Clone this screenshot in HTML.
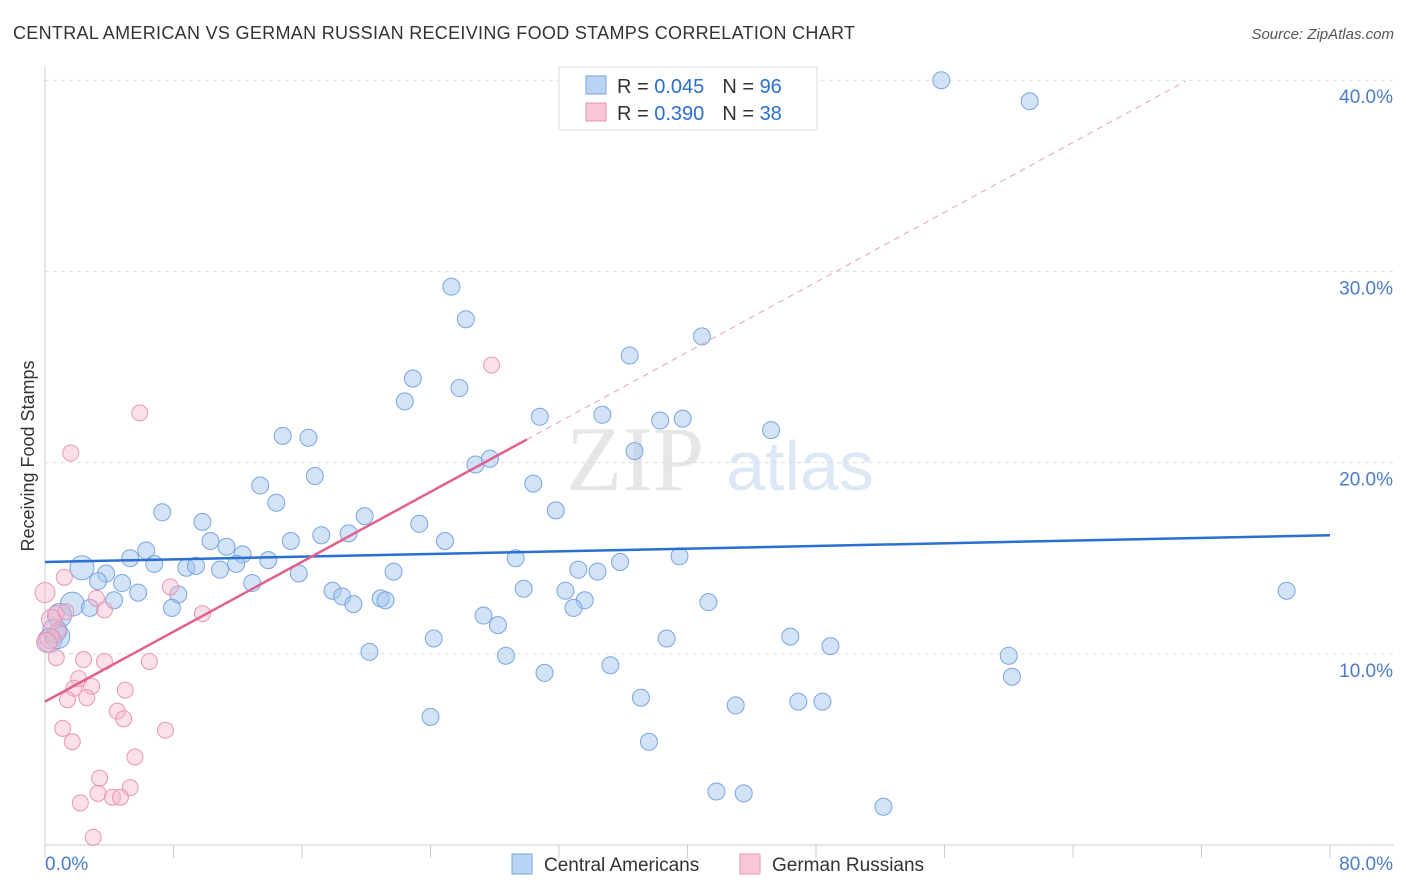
<!DOCTYPE html>
<html><head><meta charset="utf-8">
<style>
body{margin:0;background:#fff;font-family:"Liberation Sans",sans-serif;}
svg{display:block}
</style></head>
<body>
<svg id="chart" width="1406" height="892" xmlns="http://www.w3.org/2000/svg">
<text x="13" y="39" font-size="18" fill="#333" textLength="842">CENTRAL AMERICAN VS GERMAN RUSSIAN RECEIVING FOOD STAMPS CORRELATION CHART</text>
<text x="1394" y="39" font-size="15" fill="#555" text-anchor="end" font-style="italic">Source: ZipAtlas.com</text>
<g>
<text x="635" y="490" font-size="92" fill="#e6e6e6" text-anchor="middle" font-family="Liberation Serif,serif">ZIP</text>
<text x="800" y="490" font-size="70" fill="#dce8f6" text-anchor="middle">atlas</text>
</g>
<g id="grid"></g>
<g id="axes"></g>
<g id="marks"></g>
<text transform="translate(34,456) rotate(-90)" font-size="18" fill="#333" text-anchor="middle">Receiving Food Stamps</text>
<g>
<rect x="559" y="67" width="258" height="63" fill="#fff" stroke="#ddd"/>
<rect x="586" y="76" width="20" height="18" fill="#b9d3f5" stroke="#7aa6e0"/>
<rect x="586" y="103" width="20" height="18" fill="#f9c6d6" stroke="#e896b2"/>
<text x="617" y="93" font-size="20" fill="#333">R = <tspan fill="#2a6fd1">0.045</tspan><tspan dx="18">N = </tspan><tspan fill="#2a6fd1">96</tspan></text>
<text x="617" y="120" font-size="20" fill="#333">R = <tspan fill="#2a6fd1">0.390</tspan><tspan dx="18">N = </tspan><tspan fill="#2a6fd1">38</tspan></text>
</g>
<g>
<rect x="512" y="854" width="20" height="20" fill="#b9d3f5" stroke="#7aa6e0"/>
<text x="544" y="871" font-size="19" fill="#333">Central Americans</text>
<rect x="740" y="854" width="20" height="20" fill="#f9c6d6" stroke="#e896b2"/>
<text x="772" y="871" font-size="19" fill="#333">German Russians</text>
</g>
</svg>
<script>
const yTicks=[10,20,30,40];
const yTickLabels=["10.0%","20.0%","30.0%","40.0%"];
const xTickCount=10;
const xLabels=["0.0%","80.0%"];
const blueX=[55.8,61.3,25.3,26.2,36.4,40.9,22.9,22.4,25.8,30.8,34.7,38.3,39.7,45.2,14.8,16.4,36.7,26.8,27.7,16.8,13.4,30.4,14.4,31.8,7.3,9.8,19.9,23.3,17.2,18.9,15.3,10.3,24.9,6.3,5.3,11.3,12.3,13.9,29.3,35.8,39.5,6.8,2.3,8.8,9.4,11.9,10.9,3.8,21.7,15.8,33.2,34.4,3.3,4.8,12.9,17.9,29.8,32.4,5.8,8.3,18.5,19.2,20.9,21.2,33.6,4.3,1.7,2.8,7.9,32.9,41.3,77.3,27.3,28.2,24.2,38.7,46.4,48.9,20.2,28.7,60.0,35.2,31.1,60.2,37.1,43.0,46.9,48.4,24.0,37.6,41.8,43.5,52.2,0.9,0.6,0.3,0.8];
const blueY=[40.0,38.9,29.2,27.5,25.6,26.6,24.4,23.2,23.9,22.4,22.5,22.2,22.3,21.7,21.4,21.3,20.6,19.9,20.2,19.3,18.8,18.9,17.9,17.5,17.4,16.9,17.2,16.8,16.2,16.3,15.9,15.9,15.9,15.4,15.0,15.6,15.2,14.9,15.0,14.8,15.1,14.7,14.5,14.5,14.6,14.7,14.4,14.2,14.3,14.2,14.4,14.3,13.8,13.7,13.7,13.3,13.4,13.3,13.2,13.1,13.0,12.6,12.9,12.8,12.8,12.8,12.6,12.4,12.4,12.4,12.7,13.3,12.0,11.5,10.8,10.8,10.9,10.4,10.1,9.9,9.9,9.4,9.0,8.8,7.7,7.3,7.5,7.5,6.7,5.4,2.8,2.7,2.0,12.0,11.2,10.7,10.9];
const pinkX=[27.8,5.9,1.6,0.0,1.2,7.8,3.2,3.7,9.8,0.7,0.8,0.3,0.1,0.7,2.4,3.7,6.5,2.1,2.9,1.8,5.0,1.4,2.6,4.5,4.9,1.1,7.5,1.7,5.6,3.4,5.3,3.3,2.2,4.2,4.7,3.0,0.4,1.3];
const pinkY=[25.1,22.6,20.5,13.2,14.0,13.5,12.9,12.3,12.1,12.1,11.2,10.8,10.6,9.8,9.7,9.6,9.6,8.7,8.3,8.2,8.1,7.6,7.7,7.0,6.6,6.1,6.0,5.4,4.6,3.5,3.0,2.7,2.2,2.5,2.5,0.4,11.8,12.2];
const blueTrend=[14.8,16.2];
const pinkTrend=[7.5,0.457];
const X0=45,X1=1330,XMAX=80,Y0=845,PPY=19.12;
const sx=v=>X0+(X1-X0)*v/XMAX, sy=v=>Y0-v*PPY;
const NS="http://www.w3.org/2000/svg";
function mk(tag,attrs,parent){const e=document.createElementNS(NS,tag);for(const k in attrs)e.setAttribute(k,attrs[k]);parent.appendChild(e);return e;}
const grid=document.getElementById('grid'),axes=document.getElementById('axes'),marks=document.getElementById('marks');
yTicks.forEach((t,i)=>{
 const l=mk('line',{x1:X0,x2:1394,y1:sy(t),y2:sy(t),stroke:'#ddd','stroke-dasharray':'4,4'},grid);
 
 
 const tx=mk('text',{x:1393,y:sy(t)+23,'font-size':19,fill:'#4a7cc9','text-anchor':'end'},axes);
 tx.textContent=yTickLabels[i];
 
 
});
const xa=mk('line',{x1:X0,x2:1394,y1:Y0,y2:Y0,stroke:'#ccc'},axes);


const ya=mk('line',{x1:X0,x2:X0,y1:67,y2:Y0,stroke:'#ccc'},axes);


for(let i=0;i<=xTickCount;i++){const x=sx(XMAX*i/xTickCount);
 const t=mk('line',{x1:x,x2:x,y1:Y0,y2:858,stroke:'#ccc'},axes);
 
 }
const xl0=mk('text',{x:45,y:870,'font-size':19,fill:'#4a7cc9'},axes);xl0.textContent=xLabels[0];


const xl1=mk('text',{x:1393,y:870,'font-size':19,fill:'#4a7cc9','text-anchor':'end'},axes);xl1.textContent=xLabels[1];


blueX.forEach((v,i)=>{
 const c=mk('circle',{cx:sx(v),cy:sy(blueY[i]),r:v<2.5?12:8.5,fill:'rgba(165,198,240,0.5)',stroke:'#7aa6e0','stroke-width':1},marks);
 
 
});
pinkX.forEach((v,i)=>{
 const c=mk('circle',{cx:sx(v),cy:sy(pinkY[i]),r:v<0.5?10:8,fill:'rgba(247,178,200,0.4)',stroke:'#e896b2','stroke-width':1},marks);
 
 
});
const bl=mk('line',{x1:sx(0),y1:sy(blueTrend[0]),x2:sx(80),y2:sy(blueTrend[1]),stroke:'#2a6fd1','stroke-width':2.5},marks);


const pl=mk('line',{x1:sx(0),y1:sy(pinkTrend[0]),x2:sx(30),y2:sy(pinkTrend[0]+pinkTrend[1]*30),stroke:'#e0608f','stroke-width':2.5},marks);


const pd=mk('line',{x1:sx(30),y1:sy(pinkTrend[0]+pinkTrend[1]*30),x2:sx(71),y2:sy(pinkTrend[0]+pinkTrend[1]*71),stroke:'#e8a0b8','stroke-width':1,'stroke-dasharray':'6,5'},marks);


</script>
</body></html>
